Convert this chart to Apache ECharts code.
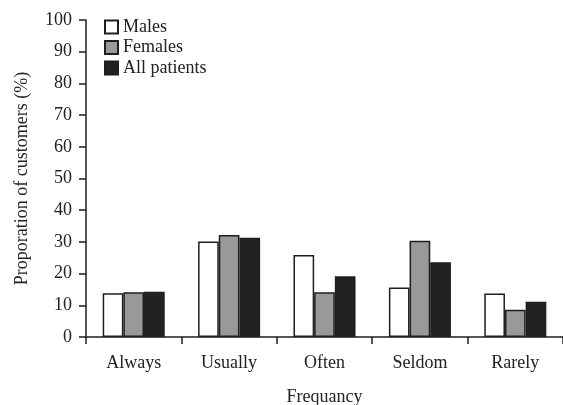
<!DOCTYPE html>
<html><head><meta charset="utf-8">
<script src="https://cdn.jsdelivr.net/npm/echarts@6/dist/echarts.min.js"></script>
<style>html,body{margin:0;padding:0;background:#fff}#c{width:563px;height:405px}</style>
</head><body><div id="c"></div>
<script>
const categories = ['Always', 'Usually', 'Often', 'Seldom', 'Rarely'];
const males = [13.8, 30.1, 25.9, 15.6, 13.7];
const females = [14.1, 32.2, 14.1, 30.4, 8.6];
const allPatients = [14.3, 31.3, 19.2, 23.6, 11.1];
const yTicks = [0, 10, 20, 30, 40, 50, 60, 70, 80, 90, 100];

const font = 'Liberation Serif';
const dark = '#1e1e1e';
const chart = echarts.init(document.getElementById('c'));
function bar(name, data, color) {
  return {
    name, type: 'bar', data, barGap: '0%', barCategoryGap: '35%',
    itemStyle: { color, borderColor: dark, borderWidth: 1.5 }
  };
}
chart.setOption({
  animation: false,
  backgroundColor: '#fff',
  grid: { left: 86, top: 20, right: 0, bottom: 68, containLabel: false, outerBoundsMode: 'none' },
  legend: {
    orient: 'vertical', left: 99, top: 13, itemWidth: 13, itemHeight: 13, itemGap: 2.5,
    icon: 'rect',
    textStyle: { fontFamily: font, fontSize: 18, color: '#222', padding: [0, 0, 0, 0] },
    data: ['Males', 'Females', 'All patients']
  },
  xAxis: {
    type: 'category', data: categories,
    name: 'Frequancy', nameLocation: 'middle', nameGap: 51,
    nameTextStyle: { fontFamily: font, fontSize: 18, color: '#222' },
    axisLine: { lineStyle: { color: dark, width: 1.5 } },
    axisTick: { show: true, length: 7, lineStyle: { color: dark, width: 1.5 } },
    axisLabel: { fontFamily: font, fontSize: 18, color: '#222', margin: 17 }
  },
  yAxis: {
    type: 'value', min: yTicks[0], max: yTicks[yTicks.length - 1], interval: 10,
    name: 'Proporation of customers (%)', nameLocation: 'middle', nameGap: 55,
    nameTextStyle: { fontFamily: font, fontSize: 18, color: '#222' },
    splitLine: { show: false },
    axisLine: { show: true, lineStyle: { color: dark, width: 1.5 } },
    axisTick: { show: true, length: 7, lineStyle: { color: dark, width: 1.5 } },
    axisLabel: { fontFamily: font, fontSize: 18, color: '#222', margin: 14 }
  },
  series: [
    bar('Males', males, '#ffffff'),
    bar('Females', females, '#999999'),
    bar('All patients', allPatients, '#222222')
  ]
});
</script></body></html>
